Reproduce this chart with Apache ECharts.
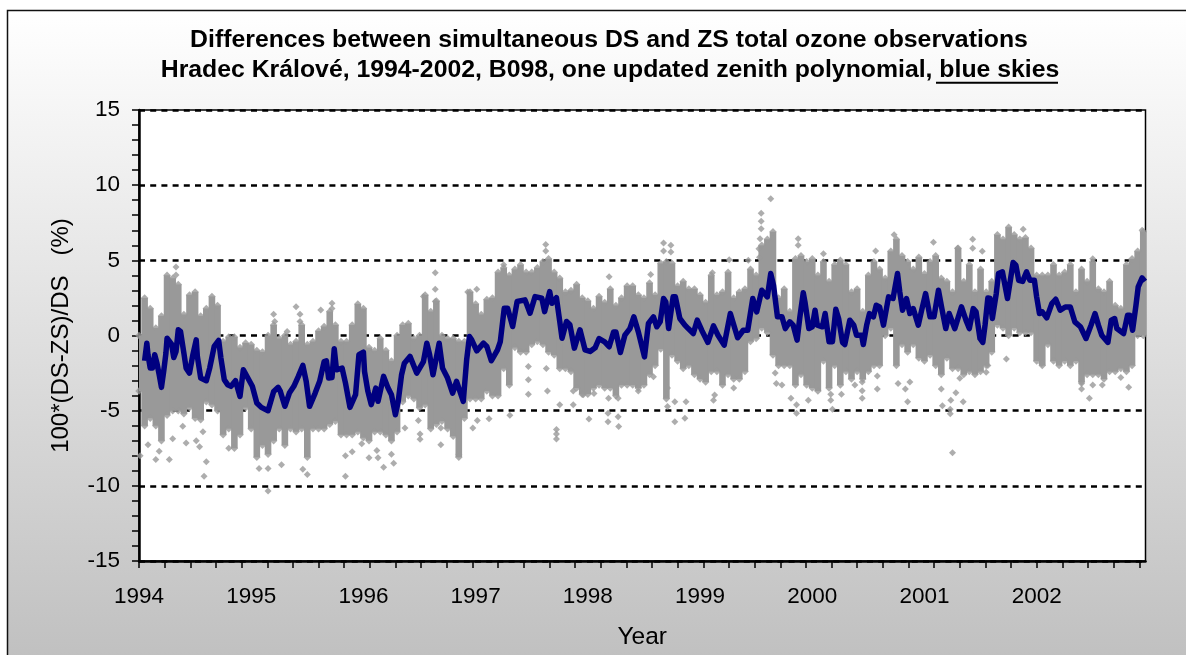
<!DOCTYPE html>
<html><head><meta charset="utf-8">
<script src="https://cdn.jsdelivr.net/npm/echarts@6/dist/echarts.min.js"></script>
<style>html,body{margin:0;padding:0;background:#fff}#c{width:1186px;height:655px}</style>
</head><body><div id="c"></div>
<script>
var titleLines = ['Differences between simultaneous DS and ZS total ozone observations',
  'Hradec Králové, 1994-2002, B098, one updated zenith polynomial, blue skies'];
var yearLabels = [1994,1995,1996,1997,1998,1999,2000,2001,2002];
var columnStartYear = 1994, columnStep = 0.05;
var cloudHigh = [
 0,2.5,1.8,.5,1.3,4,3.8,3.4,1.4,2.7,2.9,1.3,1.8,2.6,2,-.4,-.1,-.1,-.8,-.5,
 -.6,-1,-1.1,0,.7,-.2,0,-.6,-.4,.7,-.6,-.4,.3,.6,1.6,.7,-.4,-.4,.7,2.1,
 1.8,-.8,-1,-.2,-1,-1.7,0,.7,.8,-.2,0,2.7,1.6,2.3,0,-.2,-.2,-.4,-.4,2.9,
 2.1,1.4,2.4,2.5,4.2,4.5,4,4.4,4.7,4.2,4.2,4.5,4.9,5.1,4.2,3.8,2.9,3,3.4,2.5,
 2.3,1.8,2.6,2.2,3.1,2,2.5,3.3,3.3,2.7,2.5,3.5,2.7,4.8,4.9,4.8,3.3,3.6,3.1,3.1,
 2.7,2.2,4,2.7,2.9,4.2,2.5,2.9,3.1,4.4,4,6,6.4,6.9,2.5,3.1,1.6,5.1,5.3,4.9,
 5.1,4,4.9,3.6,4.7,5,4.7,2.9,3.1,1.6,4,4.9,4.4,3.8,5.6,6.4,5.3,4.9,4.4,5.2,
 4.1,4.9,5.3,3.8,3.6,2.9,5.8,3.6,4.7,2.9,4.4,2.9,3.6,6.7,6.4,7.2,6.7,6.4,6.5,5.8,
 4,4,4,4.7,4,4.2,4.7,2.9,4.4,3.6,4.9,3.1,2.9,3.6,2,1.8,4.7,5.1,5.6,6.9];
var cloudLow = [
 -3.7,-6,-5.5,-6,-7,-5.3,-5,-5,-5.2,-4.8,-5.5,-5.6,-4.4,-4.6,-5,-6.6,-6.2,-7.5,-6.6,-4.8,
 -6.2,-8.1,-7.3,-7.9,-7,-6.2,-7.3,-6.2,-6.4,-6.2,-8.1,-6.2,-6.2,-6.2,-5.9,-5.7,-6.6,-6.6,-6.6,-6.4,
 -6.8,-7,-6.4,-6.4,-6.6,-7,-6.4,-4.4,-4,-4.2,-4.8,-4.6,-6.2,-5.9,-5.7,-6.2,-6.7,-8.1,-5.5,-4.2,
 -4.2,-4.2,-3.7,-4,-4,-2.2,-3.3,-.8,-1.1,-1.1,-.6,-.4,-.6,-1.1,-1.3,-2.2,-2.2,-2.4,-3.5,-3.9,
 -3.9,-3.5,-3.3,-3.5,-3.5,-4,-3.3,-3.3,-3.3,-3.5,-3.3,-2.6,-2,-.9,-4.2,-1.3,-1.7,-2.2,-2,-2.6,
 -2.9,-3.1,-2.4,-2.4,-3.3,-2.6,-2.9,-2.9,-2.4,-.4,-.2,.5,.2,-1.3,-2,-2,-2,-3.3,-2.6,-3.3,
 -3.5,-3.7,-1.7,-3.5,-2,-3.3,-2.4,-2.9,-2.4,-2.9,-2.4,-2,-2,0,.5,-2,-.6,-1.1,-.6,-1.5,
 -1.7,-1.3,-2,-2.6,-1.5,-2.2,-2.2,-2.6,-2.4,-2.6,-2.4,-2,-1.1,.7,.5,0,.5,.2,.2,.2,
 -1.7,-2,-.6,-1.7,-2,-1.7,-2,-1.7,-3.1,-2.6,-2.6,-2.6,-2.9,-2.4,-2.4,-2.2,-2.4,-2,0,0];
var outlierYears = [
 1994.33,1994.33,1995.40,1995.435,1995.435,1995.20,1995.21,1995.32,1995.62,1995.72,1995.72,1994.58,1994.60,1994.27,1994.15,1994.18,1994.01,1995.15,1995.27,1995.15,1995.07,1995.50,1995.84,1995.84,1995.90,1995.46,1994.57,1994.51,1994.54,1994.30,1994.08,1994.42,1994.39,1994.80,
 1996.64,1996.64,1996.64,1996.535,1997.625,1997.625,1997.25,1997.01,1996.93,1996.18,1996.27,1996.05,1996.12,1996.13,1996.25,1995.985,1996.85,1996.69,1996.505,1996.505,1996.49,1996.37,1996.69,1996.975,1997.015,1997.12,1997.305,1997.72,1997.72,1997.72,1997.47,1997.47,1997.47,1997.64,1997.63,1997.75,1997.87,1997.87,1997.96,
 1999.63,1999.545,1999.545,1999.545,1999.535,1999.525,1999.53,1998.675,1998.675,1998.74,1998.74,1998.56,1998.19,1999.875,1999.875,1999.43,1999.26,1999.11,1998.275,1998.27,1998.18,1998.18,1998.01,1998.775,1998.775,1998.875,1998.865,1998.71,1998.71,1999.12,1999.13,1999.30,1999.86,1999.86,1999.81,1999.965,1999.73,1999.68,1999.67,1998.055,1998.185,1998.27,1998.45,1998.585,
 2000.73,2000.565,2001.08,2001.43,2001.43,2001.515,2001.295,2000.10,2001.25,2001.23,2001.23,2001.28,2001.235,2001.16,2001.345,2000.85,2000.83,2000.765,2000.58,2000.58,2000.445,2000.445,2000.445,2000.165,2000.165,2000.18,2000.26,2000.38,2001.15,2001.315,2000.87,
 2001.73,2002.47,2002.40,2002.40,2002.50,2002.585,2002.82,2002.75,2002.045,2001.88,2002.50,2002.94,2002.975,2001.565,2001.55];
var outlierValues = [
 4.56,4.03,1.92,1.42,.93,1.42,.93,.27,1.7,2.15,1.8,-9.36,-8.4,-8.25,-8.25,-7.7,-8,-10.35,-8.6,-8.85,-8.85,-9.25,-9.36,-8,-7.74,-8.9,-6.4,-7,-7.4,-6.86,-7.26,-7.15,-6.04,-7.5,
 4.18,3.07,2.26,2.6,6.06,5.62,4.7,3.07,2.9,-8.76,-8.5,-8.14,-7.65,-8.14,-7.9,-7.2,-7.9,-7.26,-6.55,-6.9,-5.66,-6.15,-6.15,-6.15,-5.66,-5.53,-5.3,-6.26,-6.88,-6.55,-3.9,-2.94,-2.06,-3.7,-2.2,-4.6,-3.7,-4.6,-3.94,
 9.09,8.14,7.6,7.1,6.44,5.77,5.2,6.15,5.62,6,5.55,4.05,3.9,6.44,6,5,5.04,4.18,-6.06,-5.4,-5.73,-5.18,-5.55,-5.73,-4.4,-4.4,-5.5,-4.73,-3.5,-4.3,-3.96,-3.5,-5.18,-4.6,-4.18,-4.3,-3.3,-3.2,-2.5,-3.85,-4.18,-4.18,-3.7,-2.75,
 6.7,5.62,6.2,6.4,5.8,5.6,5.8,5.44,-7.8,-5.2,-4.9,-3.8,-4.3,-4.67,-4.4,-4.4,-3.56,-3.2,-3.56,-2.7,-4.18,-3.67,-3.1,-4.3,-3.9,-4.9,-3.9,-3.3,-3.56,-2.85,-3.1,
 -1.57,-4.18,-3.56,-3.2,-3.3,-3.3,-3.45,-2.8,-1.86,7.06,5.1,7,-.1,-2,-2.45];
var smoothYears = [
 1994.05,1994.07,1994.08,1994.10,1994.12,1994.14,1994.16,1994.18,1994.20,1994.22,1994.24,1994.25,1994.29,1994.31,1994.33,1994.35,1994.37,1994.40,1994.42,1994.45,1994.48,1994.51,1994.52,1994.55,1994.60,1994.63,1994.67,1994.71,1994.73,1994.76,1994.79,1994.82,1994.86,1994.90,1994.93,1994.97,
 1995.01,1995.05,1995.09,1995.15,1995.20,1995.24,1995.26,1995.30,1995.34,1995.38,1995.42,1995.46,1995.49,1995.52,1995.57,1995.61,1995.65,1995.67,1995.69,1995.72,1995.74,1995.76,1995.81,1995.84,1995.88,1995.93,1995.96,
 1996.00,1996.01,1996.04,1996.07,1996.11,1996.13,1996.18,1996.22,1996.25,1996.285,1996.31,1996.34,1996.365,1996.415,1996.475,1996.535,1996.565,1996.59,1996.62,1996.675,1996.705,1996.75,1996.795,1996.83,1996.89,1996.92,1996.945,1996.965,
 1997.01,1997.07,1997.10,1997.14,1997.195,1997.22,1997.255,1997.285,1997.33,1997.37,1997.44,1997.485,1997.53,1997.59,1997.615,1997.66,1997.68,1997.72,1997.75,1997.77,1997.81,1997.84,1997.88,1997.93,1997.975,
 1998.02,1998.065,1998.10,1998.15,1998.19,1998.23,1998.25,1998.29,1998.33,1998.375,1998.41,1998.45,1998.505,1998.54,1998.585,1998.615,1998.645,1998.675,1998.695,1998.72,1998.76,1998.78,1998.82,1998.865,1998.895,1998.94,1998.975,
 1999.015,1999.07,1999.12,1999.16,1999.215,1999.27,1999.28,1999.335,1999.385,1999.425,1999.47,1999.505,1999.55,1999.60,1999.63,1999.655,1999.69,1999.73,1999.76,1999.80,1999.83,1999.865,1999.89,1999.92,1999.935,1999.97,
 2000.00,2000.025,2000.045,2000.09,2000.115,2000.15,2000.18,2000.21,2000.235,2000.27,2000.29,2000.335,2000.37,2000.395,2000.44,2000.455,2000.485,2000.51,2000.545,2000.57,2000.60,2000.635,2000.68,2000.72,2000.76,2000.78,2000.805,2000.84,2000.87,2000.90,2000.945,2000.975,
 2001.01,2001.05,2001.085,2001.125,2001.155,2001.19,2001.22,2001.27,2001.33,2001.37,2001.40,2001.435,2001.46,2001.495,2001.52,2001.54,2001.565,2001.585,2001.605,2001.64,2001.66,2001.695,2001.74,2001.77,2001.79,2001.815,2001.84,2001.875,2001.91,2001.94,2001.98,
 2002.00,2002.025,2002.05,2002.09,2002.135,2002.17,2002.21,2002.255,2002.30,2002.34,2002.39,2002.44,2002.485,2002.52,2002.55,2002.58,2002.635,2002.665,2002.695,2002.715,2002.775,2002.81,2002.83,2002.855,2002.885,2002.905,2002.94,2002.965];
var smoothValues = [
 -1.68,-.51,-1.28,-2.17,-2.17,-1.28,-1.84,-2.61,-3.45,-2.39,-1.17,-.18,-.58,-1.46,-1.06,.38,.27,-1.17,-2.17,-2.5,-1.28,-.29,-1.39,-2.83,-3.01,-2.17,-.73,-.33,-1.5,-2.94,-3.27,-3.38,-3.01,-4.05,-2.28,-2.83,
 -3.38,-4.49,-4.78,-5,-3.72,-3.45,-3.72,-4.71,-3.83,-3.38,-2.72,-1.99,-3.05,-4.71,-3.83,-3.05,-1.73,-1.68,-2.83,-2.79,-.88,-2.28,-2.17,-3.16,-4.78,-3.94,-1.28,
 -1.11,-2.39,-3.72,-4.6,-3.5,-4.38,-2.72,-3.5,-3.94,-5.27,-4.38,-2.61,-1.84,-1.39,-2.5,-1.73,-.51,-1.28,-2.61,-.51,-2.17,-2.83,-3.83,-3.05,-4.38,-1.62,-.07,-.29,
 -1.02,-.51,-.73,-1.68,-.95,-.4,1.81,1.81,.6,2.26,2.37,1.48,2.59,2.48,1.59,2.92,2.15,2.52,.93,-.18,.93,.71,-.84,.38,-.95,
 -1.06,-.82,-.2,-.42,-.75,.24,.24,-1.13,.02,.46,1.24,.24,-1.42,.8,1.24,.58,.91,2.46,2.23,.46,2.57,2.57,1.13,.69,.46,.13,1.02,
 .35,-.46,.64,.02,-.64,1.46,1.46,-.15,.35,.35,2.46,1.57,3.01,2.57,4.12,3.34,1.24,1.24,.46,.91,.69,-.31,1.24,2.85,2.23,.46,
 .58,1.68,.69,.58,1.46,-.42,-.42,1.75,1.13,-.46,-.6,1.02,.69,.02,.02,-.6,.69,1.46,1.24,2.01,1.9,.69,2.57,2.46,4.12,2.9,1.68,2.46,1.46,1.79,.69,1.68,
 2.79,1.24,1.24,3.01,1.79,.46,1.46,.46,1.9,1.02,.46,1.79,1.57,-.2,-.46,.69,2.5,2.46,1.13,2.79,4.12,4.23,2.46,3.89,4.85,4.67,3.67,3.6,4.23,3.67,3.67,
 2.57,1.46,1.57,1.17,2.12,2.41,1.68,1.9,1.9,.91,.58,-.2,.69,1.46,.69,.02,-.46,1.02,1.13,.46,.13,1.35,1.35,.35,2.01,3.23,3.83,3.6];

var tickStep = 25.65 / 112.2;
var tickYears = [];
for (var k = 0; k < 39 + 1; k++) tickYears.push(1994 + k * tickStep);

var cloudColumns = cloudHigh.map(function (h, i) {
  return [columnStartYear + i * columnStep, cloudLow[i], h];
});
var edgePoints = [];
cloudColumns.forEach(function (c) { edgePoints.push([c[0], c[1]]); edgePoints.push([c[0], c[2]]); });
var outliers = outlierYears.map(function (y, i) { return [y, outlierValues[i]]; });
var smooth = smoothYears.map(function (y, i) { return [y, smoothValues[i]]; });

var GRAY = '#999999', FONT = '"Liberation Sans", Arial, sans-serif';
var chart = echarts.init(document.getElementById('c'), null, {renderer: 'canvas'});
chart.setOption({
  animation: false,
  backgroundColor: '#fff',
  textStyle: {fontFamily: FONT},
  graphic: [
    {type: 'rect', z: -10, silent: true, shape: {x: 7.5, y: 10.5, width: 1200, height: 660},
     style: {stroke: '#111', lineWidth: 1.5,
       fill: new echarts.graphic.LinearGradient(0, 0, 0, 1, [
         {offset: 0, color: '#ffffff'}, {offset: 1, color: '#bfbfbf'}])}},
    {type: 'line', z: 50, silent: true, shape: {x1: 936, y1: 82.7, x2: 1058, y2: 82.7},
     style: {stroke: '#000', lineWidth: 2}}
  ],
  title: [
    {text: titleLines[0], left: 604, top: 22.5, textAlign: 'center',
     textStyle: {fontFamily: FONT, fontSize: 24.8, fontWeight: 'bold', color: '#000'}},
    {text: titleLines[1], left: 605, top: 53, textAlign: 'center',
     textStyle: {fontFamily: FONT, fontSize: 24.8, fontWeight: 'bold', color: '#000'}}
  ],
  grid: {left: 139, right: 40.5, top: 110, bottom: 92.3, show: true,
    backgroundColor: '#fff', borderColor: '#000', borderWidth: 1.5},
  xAxis: {type: 'value', min: 1994, max: 2002.97, interval: 1,
    name: 'Year', nameLocation: 'middle', nameGap: 64,
    nameTextStyle: {fontFamily: FONT, fontSize: 24.5, color: '#000'},
    axisLine: {show: true, onZero: false, lineStyle: {color: '#000', width: 2.5}},
    axisTick: {show: true, length: 7, customValues: tickYears, lineStyle: {color: '#000', width: 1.5}},
    axisLabel: {customValues: yearLabels, margin: 24, fontFamily: FONT, fontSize: 22.5, color: '#000',
      formatter: function (v) { return String(Math.round(v)); }},
    splitLine: {show: false}},
  yAxis: {type: 'value', min: -15, max: 15, interval: 5,
    name: '100*(DS-ZS)/DS   (%)', nameLocation: 'middle', nameGap: 66,
    nameTextStyle: {fontFamily: FONT, fontSize: 24, color: '#000'},
    axisLine: {show: true, onZero: false, lineStyle: {color: '#000', width: 2.5}},
    axisTick: {show: true, length: 7, lineStyle: {color: '#000', width: 1.5}},
    minorTick: {show: true, splitNumber: 5, length: 7, lineStyle: {color: '#000', width: 1.5}},
    axisLabel: {margin: 19, fontFamily: FONT, fontSize: 22.5, color: '#000'},
    splitLine: {show: true, lineStyle: {color: '#000', width: 2.5, type: [6, 5.2]}}},
  series: [
    {type: 'custom', name: 'Cloud', clip: true, z: 3, silent: true, data: cloudColumns,
     encode: {x: 0, y: [1, 2]},
     renderItem: function (params, api) {
       var a = api.coord([api.value(0), api.value(1)]);
       var b = api.coord([api.value(0), api.value(2)]);
       var w = api.size([columnStep, 0])[0] + 1;
       return {type: 'rect', shape: {x: a[0] - w / 2, y: b[1], width: w, height: a[1] - b[1]},
               style: {fill: GRAY}};
     }},
    {type: 'scatter', name: 'Edge', z: 4, silent: true, symbol: 'diamond', symbolSize: 7.5,
     itemStyle: {color: GRAY}, data: edgePoints},
    {type: 'scatter', name: 'DS-ZS', z: 4, silent: true, symbol: 'diamond', symbolSize: 7,
     itemStyle: {color: GRAY}, data: outliers},
    {type: 'line', name: 'Smoothed', z: 5, silent: true, showSymbol: false, symbol: 'none',
     lineStyle: {color: '#000080', width: 5.5, join: 'round'}, data: smooth}
  ]
});
</script></body></html>
